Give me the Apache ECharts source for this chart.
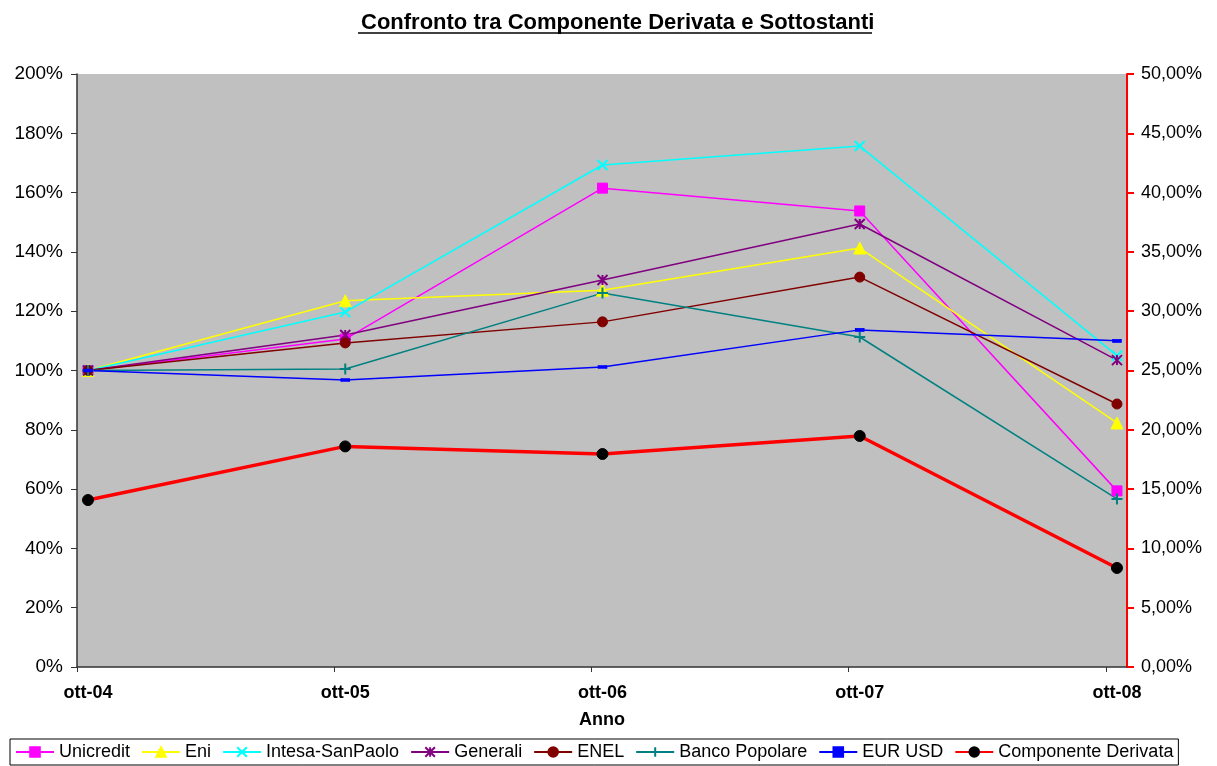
<!DOCTYPE html>
<html>
<head>
<meta charset="utf-8">
<title>Confronto tra Componente Derivata e Sottostanti</title>
<script src="https://cdn.jsdelivr.net/npm/echarts@6/dist/echarts.min.js"></script>
<style>
    html, body { margin: 0; padding: 0; background: #fff; }
    #chart { width: 1217px; height: 766px; }
</style>
</head>
<body>
<div id="chart"></div>
<script>
// Dati (valori in %)
const anni = ['ott-04', 'ott-05', 'ott-06', 'ott-07', 'ott-08'];

const unicredit = [100, 110.6, 161.5, 153.8, 59.4];
const eni = [100, 123.5, 127.1, 141.3, 82.3];
const intesa = [100, 119.7, 169.3, 175.7, 105.0];
const generali = [100, 112.0, 130.5, 149.4, 103.5];
const enel = [100, 109.3, 116.4, 131.5, 88.7];
const bancoPopolare = [100, 100.5, 126.1, 111.3, 56.7];
const eurUsd = [100, 96.8, 101.2, 113.7, 110.0];
const componenteDerivata = [14.08, 18.6, 17.96, 19.48, 8.35];

const leftTicks = [0, 20, 40, 60, 80, 100, 120, 140, 160, 180, 200];
const rightTicks = [0, 5, 10, 15, 20, 25, 30, 35, 40, 45, 50];

document.addEventListener('DOMContentLoaded', function () {
    const chart = echarts.init(document.getElementById('chart'));

    const font = 'Arial, "Liberation Sans", sans-serif';
    // l'asse del tempo in Excel ha le tacche a inizio mese, i punti a metà
    const tickShift = -0.0428;

    function toPoints(arr) {
        return arr.map((v, i) => [i, v]);
    }

    function lineSeries(name, data, color, symbol, size, extra) {
        return Object.assign({
            name: name,
            type: 'line',
            data: toPoints(data),
            symbol: symbol,
            symbolSize: size,
            yAxisIndex: 0,
            lineStyle: { color: color, width: 1.5 },
            itemStyle: { color: color, borderColor: color, borderWidth: 1 },
            animation: false
        }, extra || {});
    }

    const crossPath = 'path://M0,0L10,10M10,0L0,10';
    const starPath = 'path://M0,0L10,10M10,0L0,10M5,0L5,10';
    const plusPath = 'path://M5,0L5,10M0,5L10,5';
    // trattino piccolo, con i punti M che allargano il riquadro
    const dashPath = 'path://M0,0M2,4L8,4L8,6L2,6ZM10,10';

    const option = {
        backgroundColor: '#fff',
        title: {
            text: 'Confronto tra Componente Derivata e Sottostanti',
            left: 356,
            top: 7,
            textStyle: { fontFamily: font, fontSize: 22, fontWeight: 'bold', color: '#000' }
        },
        graphic: [{
            type: 'line',
            shape: { x1: 358, y1: 33, x2: 872, y2: 33 },
            style: { stroke: '#000', lineWidth: 1.5 }
        }],
        grid: {
            left: 77, right: 90, top: 74, bottom: 99,
            show: true, backgroundColor: '#c0c0c0', borderWidth: 0
        },
        legend: {
            bottom: 1, left: 10,
            borderColor: '#000', borderWidth: 1,
            padding: [4, 5],
            itemGap: 11, itemWidth: 38, itemHeight: 12,
            textStyle: { fontFamily: font, fontSize: 18, color: '#000' },
            data: ['Unicredit', 'Eni', 'Intesa-SanPaolo', 'Generali', 'ENEL', 'Banco Popolare', 'EUR USD', 'Componente Derivata']
        },
        xAxis: {
            type: 'value',
            min: tickShift,
            max: 4.039,
            name: 'Anno',
            nameLocation: 'middle',
            nameGap: 44,
            nameTextStyle: { fontFamily: font, fontSize: 18, fontWeight: 'bold', color: '#000' },
            axisLine: { onZero: false, lineStyle: { color: '#333', width: 1.5 } },
            axisTick: {
                show: true, length: 5,
                customValues: anni.map((a, i) => i + tickShift),
                lineStyle: { color: '#333' }
            },
            axisLabel: {
                customValues: anni.map((a, i) => i),
                formatter: v => anni[Math.round(v)],
                margin: 17,
                fontFamily: font, fontSize: 18, fontWeight: 'bold', color: '#000'
            },
            splitLine: { show: false }
        },
        yAxis: [{
            type: 'value',
            min: 0, max: 200, interval: 20,
            axisLine: { show: true, onZero: false, lineStyle: { color: '#333', width: 1.5 } },
            axisTick: { show: true, length: 6, customValues: leftTicks, lineStyle: { color: '#333' } },
            axisLabel: {
                formatter: '{value}%', margin: 14,
                fontFamily: font, fontSize: 19, color: '#000'
            },
            splitLine: { show: false }
        }, {
            type: 'value',
            min: 0, max: 50, interval: 5,
            position: 'right',
            axisLine: { show: true, onZero: false, lineStyle: { color: '#ff0000', width: 2 } },
            axisTick: { show: true, length: 7, customValues: rightTicks, lineStyle: { color: '#ff0000', width: 2 } },
            axisLabel: {
                formatter: v => v.toFixed(2).replace('.', ',') + '%',
                margin: 14,
                fontFamily: font, fontSize: 18, color: '#000'
            },
            splitLine: { show: false }
        }],
        series: [
            lineSeries('Unicredit', unicredit, '#ff00ff', 'rect', 10),
            lineSeries('Eni', eni, '#ffff00', 'triangle', 12),
            lineSeries('Intesa-SanPaolo', intesa, '#00ffff', crossPath, 10,
                { itemStyle: { color: '#00ffff', borderColor: '#00ffff', borderWidth: 2 } }),
            lineSeries('Generali', generali, '#800080', starPath, 10,
                { itemStyle: { color: '#800080', borderColor: '#800080', borderWidth: 2 } }),
            lineSeries('ENEL', enel, '#800000', 'circle', 10),
            lineSeries('Banco Popolare', bancoPopolare, '#008080', plusPath, 11,
                { itemStyle: { color: '#008080', borderColor: '#008080', borderWidth: 2 } }),
            lineSeries('EUR USD', eurUsd, '#0000ff', 'rect', [8, 3], { legendIcon: dashPath }),
            lineSeries('Componente Derivata', componenteDerivata, '#ff0000', 'circle', 11, {
                yAxisIndex: 1,
                z: 5,
                lineStyle: { color: '#ff0000', width: 3.5 },
                itemStyle: { color: '#000', borderColor: '#000', borderWidth: 1 }
            })
        ]
    };

    chart.setOption(option);
});
</script>
</body>
</html>
